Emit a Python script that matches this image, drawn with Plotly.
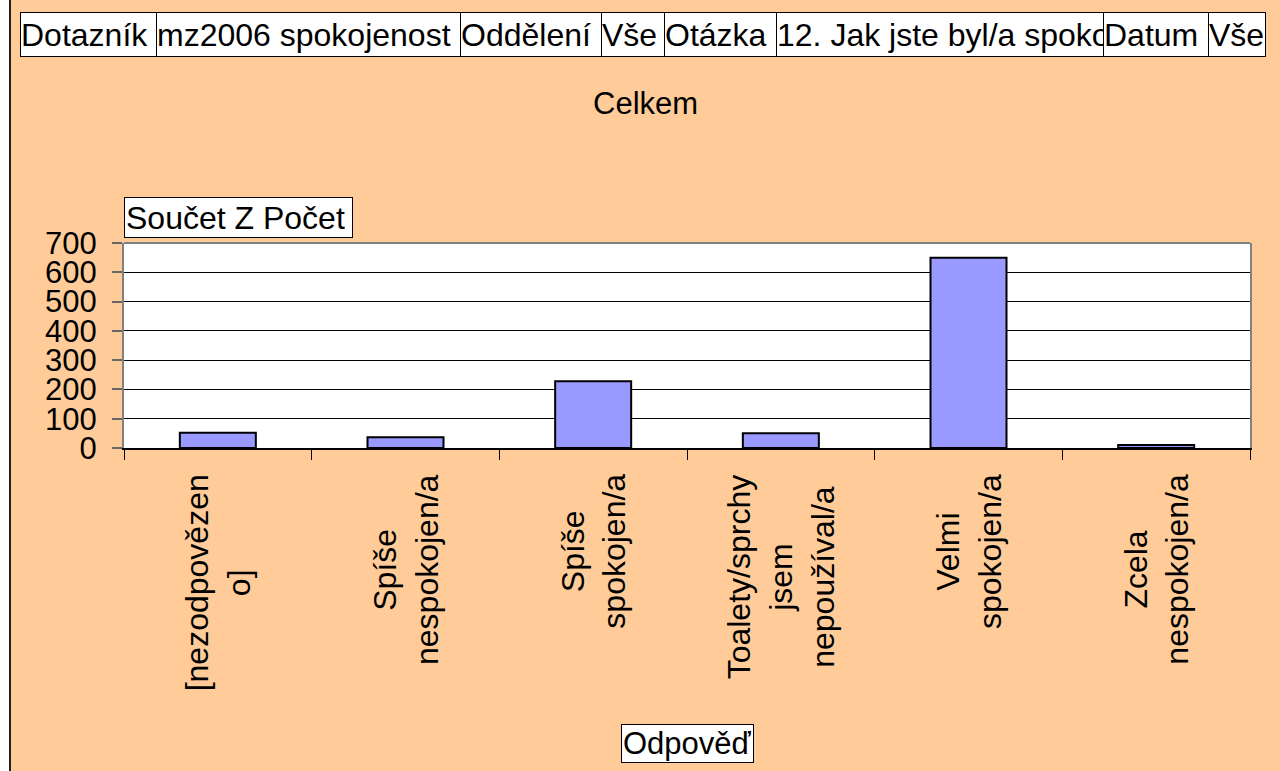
import plotly.graph_objects as go

# ---- data ----
categories = ["[nezodpovězen o]", "Spíše nespokojen/a", "Spíše spokojen/a",
              "Toalety/sprchy jsem nepoužíval/a", "Velmi spokojen/a", "Zcela nespokojen/a"]
category_labels = ["[nezodpovězen<br>o]", "Spíše<br>nespokojen/a", "Spíše<br>spokojen/a",
                   "Toalety/sprchy<br>jsem<br>nepoužíval/a", "Velmi<br>spokojen/a", "Zcela<br>nespokojen/a"]
values = [52, 37, 228, 50, 650, 10]
y_ticks = [0, 100, 200, 300, 400, 500, 600, 700]
header_cells = ["Dotazník", "mz2006 spokojenost", "Oddělení", "Vše", "Otázka",
                "12. Jak jste byl/a spokojen/a", "Datum", "Vše"]
title_text = "Celkem"
y_title_text = "Součet Z Počet"
x_title_text = "Odpověď"

# ---- layout geometry (pixels) ----
W, H = 1280, 771
PL, PR, PT, PB = 124, 1250, 243, 448   # plot area edges


def px(x):
    return (x - PL) / (PR - PL)


def py(y):
    return (PB - y) / (PB - PT)


FONT = "Liberation Sans, Arial, sans-serif"
BG = "#FFCC99"

fig = go.Figure()
fig.add_trace(go.Bar(
    x=categories, y=values,
    marker=dict(color="#9999FF", line=dict(color="black", width=2)),
    hoverinfo="x+y",
))

shapes = []
annotations = []

# left white margin and black frame edge
shapes.append(dict(type="rect", xref="paper", yref="paper",
                   x0=px(-5), x1=px(9), y0=py(H + 5), y1=py(-5),
                   fillcolor="white", line=dict(width=0), layer="below"))
shapes.append(dict(type="line", xref="paper", yref="paper",
                   x0=px(10), x1=px(10), y0=py(H + 5), y1=py(-5),
                   line=dict(color="#222222", width=2)))
# plot area top border (grey)
shapes.append(dict(type="line", xref="paper", yref="paper",
                   x0=0, x1=1, y0=1, y1=1, line=dict(color="#808080", width=2)))

# header cells
edges = [20, 156, 460, 601, 664, 776, 1103, 1208, 1265]
top, bottom = 12, 57
for i, txt in enumerate(header_cells):
    l, r = edges[i], edges[i + 1]
    annotations.append(dict(
        text=txt, xref="paper", yref="paper",
        x=px(l), y=py(top), xanchor="left", yanchor="top",
        width=r - l - 1, height=bottom - top - 2,
        align="left", valign="middle", showarrow=False,
        bgcolor="white", bordercolor="black", borderwidth=1, borderpad=0,
        font=dict(family=FONT, size=32, color="black"),
    ))

# title
annotations.append(dict(text=title_text, xref="paper", yref="paper",
                        x=px(645), y=py(103), xanchor="center", yanchor="middle",
                        showarrow=False, font=dict(family=FONT, size=31, color="black")))

# y-axis title box
annotations.append(dict(text=y_title_text, xref="paper", yref="paper",
                        x=px(124), y=py(197), xanchor="left", yanchor="top",
                        width=353 - 124 - 4, height=238 - 197 - 4,
                        align="left", valign="middle", showarrow=False,
                        bgcolor="white", bordercolor="black", borderwidth=1, borderpad=1,
                        font=dict(family=FONT, size=32, color="black")))

# x-axis title box
annotations.append(dict(text=x_title_text, xref="paper", yref="paper",
                        x=px(687), y=py(743), xanchor="center", yanchor="middle",
                        showarrow=False, bgcolor="white", bordercolor="black",
                        borderwidth=1, borderpad=1,
                        font=dict(family=FONT, size=31, color="black")))

# category labels (rotated, centered lines)
for cat, lab in zip(categories, category_labels):
    annotations.append(dict(text=lab, xref="x", yref="paper",
                            x=cat, y=py(472), xanchor="center", yanchor="top",
                            textangle=-90, align="center", showarrow=False,
                            font=dict(family=FONT, size=32, color="black")))

fig.update_layout(
    width=W, height=H,
    margin=dict(l=PL, r=W - PR, t=PT, b=H - PB, pad=0),
    paper_bgcolor=BG, plot_bgcolor="white",
    showlegend=False,
    bargap=0.595,
    shapes=shapes, annotations=annotations,
    font=dict(family=FONT, size=31, color="black"),
    xaxis=dict(
        type="category", categoryorder="array", categoryarray=categories,
        showticklabels=False, ticks="outside", ticklen=10, tickwidth=1,
        tickcolor="black", tickson="boundaries",
        showline=True, linecolor="black", linewidth=2,
        showgrid=False, zeroline=False, fixedrange=True,
    ),
    yaxis=dict(
        range=[0, 700], tickvals=y_ticks, ticktext=[str(v) for v in y_ticks],
        ticks="outside", ticklen=10, tickwidth=2, tickcolor="#666666",
        ticklabelstandoff=9,
        showline=True, linecolor="#808080", linewidth=2, mirror=True,
        showgrid=True, gridcolor="black", gridwidth=1,
        zeroline=False, fixedrange=True,
        tickfont=dict(family=FONT, size=31, color="black"),
    ),
)

fig.write_html("out.html",
               config={"displayModeBar": False},
               post_script="document.body.style.margin='0px';"
                           "document.body.style.overflow='hidden';")
